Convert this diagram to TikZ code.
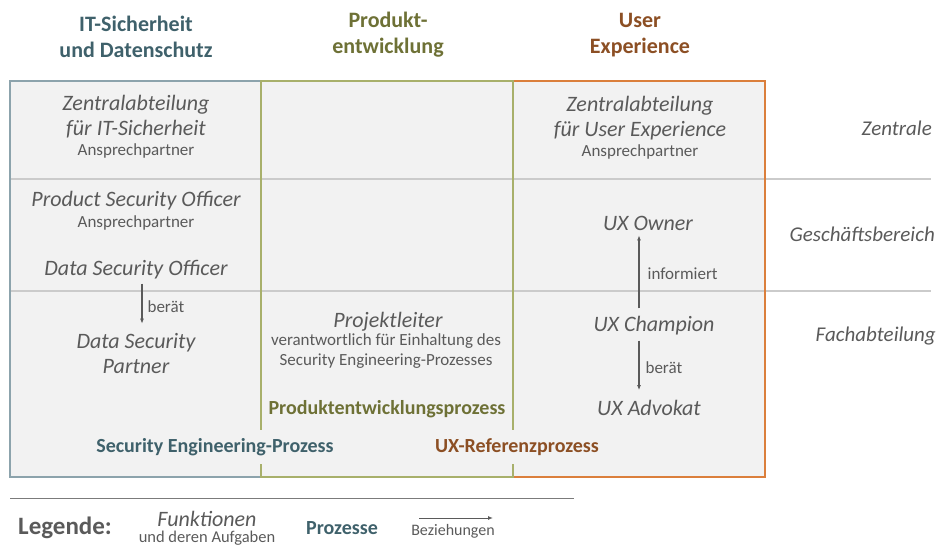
\documentclass[tikz,border=0pt]{standalone}
\usepackage{fontspec}
\setmainfont{Carlito}
\usepackage{xcolor}
\usepackage{tikz}
\usetikzlibrary{positioning,arrows.meta}

\definecolor{secblue}{HTML}{3F616B}
\definecolor{secline}{HTML}{8CA3AC}
\definecolor{devolive}{HTML}{6E7136}
\definecolor{devline}{HTML}{A8B06B}
\definecolor{uxbrown}{HTML}{8C4F24}
\definecolor{uxline}{HTML}{DB7F3C}
\definecolor{txtgray}{HTML}{5A5A5A}
\definecolor{rulegray}{HTML}{CBCBCB}
\definecolor{boxfill}{HTML}{F2F2F2}

\begin{document}
\begin{tikzpicture}[x=1pt,y=-1pt,
	head/.style={font=\fontsize{22}{26}\selectfont\bfseries,align=center,inner sep=0pt},
	func/.style={font=\fontsize{22}{25}\selectfont\itshape,text=txtgray,align=center,inner sep=0pt},
	task/.style={font=\fontsize{17}{20}\selectfont,text=txtgray,align=center,inner sep=0pt},
	level/.style={font=\fontsize{21}{22}\selectfont\itshape,text=txtgray,anchor=east,inner sep=0pt},
	proc/.style={font=\fontsize{20}{22}\selectfont\bfseries,fill=boxfill,inner xsep=4pt,inner ysep=8pt},
	rel/.style={draw=txtgray,line width=1.2pt,-{Latex[length=5pt,width=4pt]}}]
	\useasboundingbox (0,0) rectangle (945,545);

	% spalten und ebenen
	\fill[boxfill] (10,81) rectangle (765,477);
	\foreach \Y in {179,291}
		\draw[rulegray,line width=1.6pt] (10,\Y) -- (931,\Y);
	\draw[secline,line width=2.4pt] (10,81) rectangle (261,477);
	\draw[uxline,line width=2.4pt] (513,81) rectangle (765,477);
	\draw[devline,line width=2.4pt] (261,81) rectangle (513,477);

	% kopfzeile
	\node[head,text=secblue] (hsec) at (136,37) {IT-Sicherheit\\und Datenschutz};
	\node[head,text=devolive] (hdev) at (388,35) {Produkt-\\entwicklung};
	\node[head,text=uxbrown] (hux) at (640,35) {User\\Experience};

	% ebenen rechts
	\node[level] (zentrale) at (932,128) {Zentrale};
	\node[level] (gb) at (935,234) {Geschäftsbereich};
	\node[level] (fa) at (936,336) {Fachabteilung};

	% IT-Sicherheit
	\node[func] (zit) at (136,117) {Zentralabteilung\\für IT-Sicherheit};
	\node[task] (zit-ap) at (136,151) {Ansprechpartner};
	\node[func] (pso) at (136,201) {Product Security Officer};
	\node[task] (pso-ap) at (136,223) {Ansprechpartner};
	\node[func] (dso) at (136,270) {Data Security Officer};
	\node[func] (dsp) at (136,354) {Data Security\\Partner};

	% Produktentwicklung
	\node[func] (pl) at (388,322) {Projektleiter};
	\node[task] (pl-task) at (386,351) {verantwortlich für Einhaltung des\\Security Engineering-Prozesses};

	% User Experience
	\node[func] (zux) at (640,118) {Zentralabteilung\\für User Experience};
	\node[task] (zux-ap) at (640,152) {Ansprechpartner};
	\node[func] (uxo) at (648,223) {UX Owner};
	\node[func] (uxc) at (654,326) {UX Champion};
	\node[func] (uxa) at (649,408) {UX Advokat};

	% prozesse
	\node[proc,text=devolive] (pdev) at (387,409) {Produktentwicklungsprozess};
	\node[proc,text=secblue] (psec) at (215,447) {Security Engineering-Prozess};
	\node[proc,text=uxbrown] (pux) at (517,447) {UX-Referenzprozess};

	% beziehungen
	\coordinate (secaxis) at (142,0);
	\coordinate (uxaxis) at (639,0);
	\draw[rel,shorten <=4pt,shorten >=10pt] (dso.south -| secaxis) -- (dsp.north -| secaxis)
		node[task,midway,right=5pt] {berät};
	\draw[rel,shorten <=8pt,shorten >=5pt] (uxc.north -| uxaxis) -- (uxo.south -| uxaxis)
		node[task,midway,right=8pt] {informiert};
	\draw[rel,shorten <=5pt,shorten >=10pt] (uxc.south -| uxaxis) -- (uxa.north -| uxaxis)
		node[task,midway,right=6pt] {berät};

	% legende
	\coordinate (legl) at (10,498);
	\coordinate (legr) at (574,498);
	\draw[txtgray!80,line width=0.8pt] (legl) -- (legr);
	\node[font=\fontsize{25}{26}\selectfont\bfseries,text=txtgray,inner sep=0pt] (leg) at (65,528) {Legende:};
	\node[func] (lfunc) at (207,519) {Funktionen};
	\node[task,font=\fontsize{16.5}{18}\selectfont] (lfunc-t) at (207,538) {und deren Aufgaben};
	\node[font=\fontsize{20}{22}\selectfont\bfseries,text=secblue,inner sep=0pt] (lproc) at (342,528) {Prozesse};
	\node[task,font=\fontsize{16}{18}\selectfont] (lrel) at (453,531) {Beziehungen};
	\coordinate (lrel-a) at (419,518);
	\coordinate (lrel-b) at (493,518);
	\draw[rel,line width=1pt] (lrel-a) -- (lrel-b);
\end{tikzpicture}
\end{document}
